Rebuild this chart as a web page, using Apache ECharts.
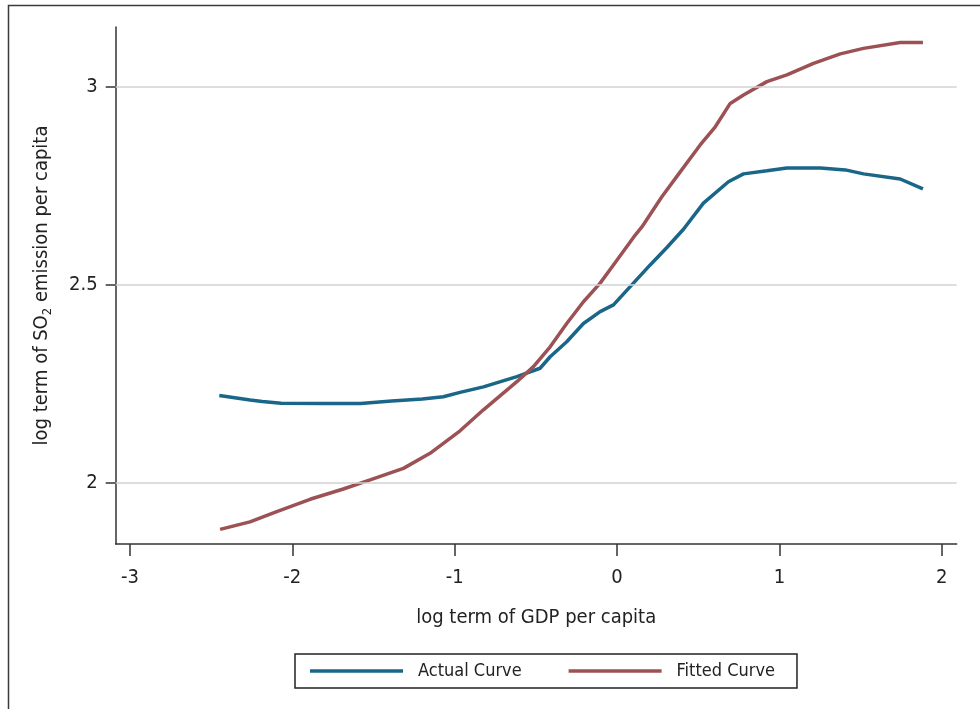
<!DOCTYPE html>
<html>
<head>
<meta charset="utf-8">
<script src="https://cdn.jsdelivr.net/npm/echarts@6/dist/echarts.min.js"></script>
<style>
html,body{margin:0;padding:0;background:#fff;}
#chart{width:980px;height:709px;}
</style>
</head>
<body>
<div id="chart"></div>
<script>
// ---- data ----
const actualX = [-2.45, -2.26, -2.185, -2.07, -1.8, -1.58, -1.388, -1.199, -1.07, -0.967, -0.823, -0.617, -0.474, -0.412, -0.31, -0.207, -0.104, -0.022, 0.081, 0.204, 0.307, 0.409, 0.532, 0.686, 0.779, 0.923, 1.046, 1.252, 1.406, 1.518, 1.744, 1.884];
const actualY = [2.220, 2.209, 2.205, 2.2005, 2.200, 2.200, 2.206, 2.211, 2.217, 2.228, 2.242, 2.268, 2.289, 2.318, 2.356, 2.402, 2.432, 2.449, 2.495, 2.550, 2.594, 2.640, 2.706, 2.760, 2.780, 2.788, 2.795, 2.795, 2.790, 2.780, 2.767, 2.742];
const fittedX = [-2.445, -2.261, -2.096, -1.891, -1.686, -1.521, -1.316, -1.152, -0.967, -0.823, -0.617, -0.515, -0.412, -0.31, -0.207, -0.104, -0.001, 0.102, 0.153, 0.276, 0.389, 0.512, 0.605, 0.697, 0.779, 0.923, 1.046, 1.210, 1.375, 1.518, 1.744, 1.884];
const fittedY = [1.882, 1.901, 1.927, 1.958, 1.984, 2.007, 2.036, 2.074, 2.131, 2.184, 2.255, 2.293, 2.343, 2.402, 2.457, 2.504, 2.562, 2.620, 2.646, 2.722, 2.785, 2.853, 2.899, 2.958, 2.979, 3.013, 3.030, 3.059, 3.083, 3.097, 3.112, 3.112];
const xTicks = [-3, -2, -1, 0, 1, 2];
const yTicks = [2, 2.5, 3];
const seriesNames = ['Actual Curve', 'Fitted Curve'];

const FONT = "'Liberation Sans Narrow', 'DejaVu Sans Condensed', sans-serif";
const zip = (xs, ys) => xs.map((x, i) => [x, ys[i]]);

const chart = echarts.init(document.getElementById('chart'), null, {renderer: 'canvas'});
chart.setOption({
  animation: false,
  backgroundColor: '#fff',
  textStyle: {fontFamily: FONT, color: '#222'},
  graphic: [{
    type: 'rect', left: 6, top: 3, shape: {width: 1000, height: 800},
    style: {fill: 'none', stroke: '#3a3a3a', lineWidth: 1.5}, silent: true, z: 0
  }],
  grid: {left: 115.7, top: 27, width: 841, height: 517},
  xAxis: {
    type: 'value', min: -3.088, max: 2.092,
    name: 'log term of GDP per capita', nameLocation: 'middle', nameGap: 64,
    nameTextStyle: {fontSize: 20, fontFamily: FONT, color: '#222'},
    axisLine: {onZero: false, lineStyle: {color: '#333', width: 1.5}},
    axisTick: {length: 12, lineStyle: {color: '#333', width: 1.5}, customValues: xTicks},
    axisLabel: {fontSize: 20, fontFamily: FONT, color: '#222', margin: 24, customValues: xTicks},
    splitLine: {show: false}
  },
  yAxis: {
    type: 'value', min: 1.845, max: 3.151,
    name: '{a|log term of SO}{s|2}{a| emission per capita}', nameLocation: 'middle', nameGap: 62,
    nameTextStyle: {
      fontFamily: FONT, color: '#222',
      rich: {
        a: {fontSize: 20, fontFamily: FONT, color: '#222', lineHeight: 24},
        s: {fontSize: 13, fontFamily: FONT, color: '#222', lineHeight: 12, verticalAlign: 'bottom'}
      }
    },
    axisLine: {onZero: false, lineStyle: {color: '#333', width: 1.5}},
    axisTick: {length: 10, lineStyle: {color: '#333', width: 1.5}, customValues: yTicks},
    axisLabel: {fontSize: 20, fontFamily: FONT, color: '#222', margin: 18, customValues: yTicks},
    splitLine: {show: false}
  },
  legend: {
    data: seriesNames,
    left: 295, top: 654,
    orient: 'horizontal',
    icon: 'rect', itemWidth: 93, itemHeight: 3.5, itemGap: 47,
    padding: [8, 22, 8, 15],
    borderColor: '#222', borderWidth: 1.5,
    textStyle: {fontSize: 18, fontFamily: FONT, color: '#222', padding: [0, 0, 0, 10]}
  },
  series: [
    {
      type: 'line', name: 'grid', data: [], z: 1, silent: true,
      markLine: {
        silent: true, symbol: ['none', 'none'], label: {show: false},
        lineStyle: {color: '#d2d2d2', width: 1.5, type: 'solid'},
        data: yTicks.map(v => ({yAxis: v}))
      }
    },
    {
      type: 'line', name: seriesNames[0], data: zip(actualX, actualY), z: 3,
      showSymbol: false, symbol: 'none',
      lineStyle: {color: '#1a6688', width: 3.5}, itemStyle: {color: '#1a6688'}
    },
    {
      type: 'line', name: seriesNames[1], data: zip(fittedX, fittedY), z: 3,
      showSymbol: false, symbol: 'none',
      lineStyle: {color: '#9c5254', width: 3.5}, itemStyle: {color: '#9c5254'}
    }
  ]
});
</script>
</body>
</html>
